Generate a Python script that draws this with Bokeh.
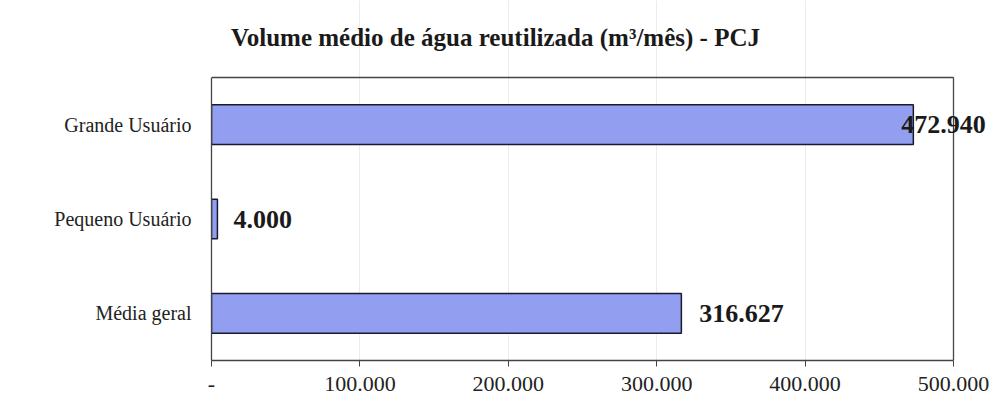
from bokeh.plotting import figure
from bokeh.models import Range1d, FixedTicker, ColumnDataSource, Label
from bokeh.embed import file_html
from bokeh.resources import INLINE

categories = ["Grande Usuário", "Pequeno Usuário", "Média geral"]
values = [472940, 4000, 316627]
value_labels = ["472.940", "4.000", "316.627"]
label_offsets = [-12, 16, 18]
x_ticks = [0, 100000, 200000, 300000, 400000, 500000]
x_tick_labels = ["-", "100.000", "200.000", "300.000", "400.000", "500.000"]
title_text = "Volume médio de água reutilizada (m³/mês) - PCJ"

FONT = "Liberation Serif"
W, H = 999, 409
LEFT, RIGHT_AXIS, TOP_AXIS, BOTTOM = 211, 953, 77, 360   # pixel layout of the visual plot box
n = len(categories)
ypos = [n - i - 0.5 for i in range(n)]
x_max = x_ticks[-1]
# frame extends to the canvas' right and top edges so labels are not clipped
x_end = x_max * (W - LEFT) / (RIGHT_AXIS - LEFT)
y_end = n * BOTTOM / (BOTTOM - TOP_AXIS)

p = figure(width=W, height=H, output_backend="svg", toolbar_location=None,
           y_range=Range1d(0, y_end), x_range=Range1d(0, x_end),
           min_border_left=LEFT, min_border_right=0, min_border_top=0,
           min_border_bottom=H - BOTTOM)
p.outline_line_color = None
p.background_fill_color = "white"
p.border_fill_color = "white"

p.ygrid.grid_line_color = None
p.xgrid.grid_line_color = "#ececec"
p.xgrid.ticker = FixedTicker(ticks=x_ticks[1:-1])
p.xgrid.bounds = (0, n)

src = ColumnDataSource(dict(y=ypos, val=values))
p.hbar(y="y", right="val", left=0, height=0.42, source=src,
       fill_color="#929ff0", line_color="#1a1a2e", line_width=1.5)

# top and right edges of the plot box
p.segment(x0=[0, x_max], y0=[n, 0], x1=[x_max, x_max], y1=[n, n],
          line_color="#444444", line_width=1.3)

for yv, v, lab, off in zip(ypos, values, value_labels, label_offsets):
    p.add_layout(Label(x=v, y=yv, text=lab, x_offset=off,
                       text_font=FONT, text_font_size="26px", text_font_style="bold",
                       text_baseline="middle", text_color="#1a1a1a"))

p.xaxis.ticker = FixedTicker(ticks=x_ticks)
p.xaxis.bounds = (0, x_max)
p.xaxis.major_label_overrides = {t: l for t, l in zip(x_ticks, x_tick_labels)}
p.xaxis.major_label_text_font = FONT
p.xaxis.major_label_text_font_size = "22px"
p.xaxis.major_label_text_color = "#222222"
p.xaxis.major_label_standoff = 10
p.xaxis.major_tick_out = 6
p.xaxis.major_tick_in = 0
p.xaxis.minor_tick_line_color = None
p.xaxis.axis_line_color = "#444444"
p.xaxis.axis_line_width = 1.3
p.xaxis.major_tick_line_color = "#444444"

p.yaxis.ticker = FixedTicker(ticks=ypos)
p.yaxis.bounds = (0, n)
p.yaxis.major_label_overrides = {y: c for y, c in zip(ypos, categories)}
p.yaxis.major_label_text_font = FONT
p.yaxis.major_label_text_font_size = "20px"
p.yaxis.major_label_text_color = "#222222"
p.yaxis.major_label_standoff = 14
p.yaxis.major_tick_line_color = None
p.yaxis.minor_tick_line_color = None
p.yaxis.axis_line_color = "#444444"
p.yaxis.axis_line_width = 1.3

p.add_layout(Label(x=495 - LEFT, y=BOTTOM - 37, x_units="screen", y_units="screen",
                   text=title_text, text_font=FONT, text_font_size="25px",
                   text_font_style="bold", text_align="center", text_baseline="middle",
                   text_color="#1a1a1a"))

open("out.html", "w").write(file_html(p, INLINE))
